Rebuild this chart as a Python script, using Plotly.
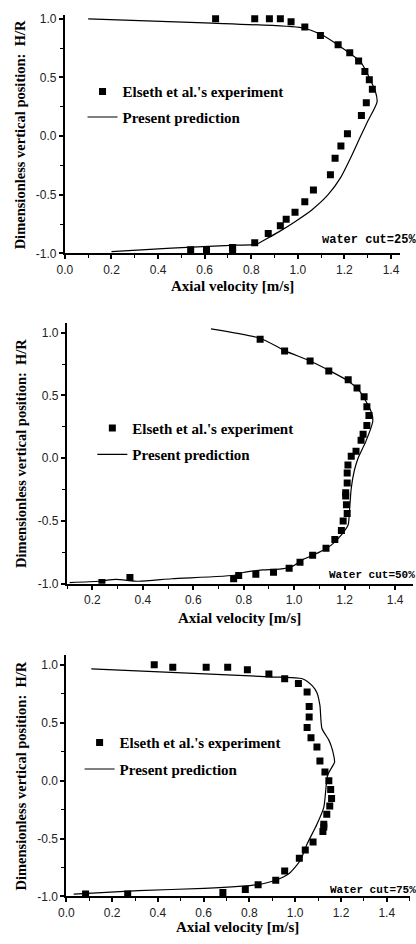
import plotly.graph_objects as go

# ---------------- data ----------------
# water cut = 25 %
exp25_v = [0.647, 0.815, 0.878, 0.925, 0.971, 1.03, 1.097, 1.173, 1.223, 1.261, 1.288, 1.307, 1.32,
           1.294, 1.273, 1.213, 1.185, 1.16, 1.14, 1.067, 1.03, 0.988, 0.95, 0.925, 0.873, 0.815,
           0.72, 0.72, 0.608, 0.54]
exp25_h = [1.0, 1.0, 1.0, 1.0, 0.975, 0.93, 0.857, 0.78, 0.71, 0.64, 0.55, 0.48, 0.40,
           0.285, 0.175, 0.02, -0.085, -0.19, -0.33, -0.46, -0.56, -0.65, -0.71, -0.765, -0.83, -0.91,
           -0.95, -0.97, -0.97, -0.97]
pred25_v = [0.1, 0.6, 1.017, 1.1, 1.17, 1.27, 1.333, 1.34, 1.30, 1.27, 1.227, 1.185, 1.13, 1.06,
            0.988, 0.92, 0.862, 0.82, 0.736, 0.457, 0.2]
pred25_h = [1.0, 0.966, 0.924, 0.866, 0.78, 0.63, 0.38, 0.29, 0.126, 0.0, -0.185, -0.35, -0.5, -0.63,
            -0.73, -0.815, -0.88, -0.924, -0.93, -0.955, -0.985]

# water cut = 50 %
exp50_v = [0.865, 0.962, 1.063, 1.137, 1.214, 1.249, 1.277, 1.288, 1.296, 1.288, 1.273, 1.265, 1.245,
           1.226, 1.213, 1.21, 1.21, 1.204, 1.204, 1.207, 1.21, 1.194, 1.187, 1.161, 1.126, 1.073,
           1.023, 0.98, 0.918, 0.848, 0.78, 0.76, 0.349, 0.238]
exp50_h = [0.947, 0.853, 0.774, 0.695, 0.624, 0.56, 0.49, 0.41, 0.34, 0.26, 0.19, 0.142, 0.055,
           0.016, -0.055, -0.118, -0.197, -0.276, -0.3, -0.37, -0.44, -0.5, -0.576, -0.647, -0.718, -0.773,
           -0.829, -0.876, -0.908, -0.924, -0.935, -0.96, -0.95, -0.99]
pred50_v = [0.67, 0.865, 0.966, 1.063, 1.137, 1.214, 1.257, 1.288, 1.308, 1.311, 1.284, 1.253, 1.238,
            1.226, 1.218, 1.214, 1.187, 1.148, 1.098, 1.032, 0.993, 0.942, 0.876, 0.798, 0.771, 0.515,
            0.383, 0.293, 0.227, 0.11]
pred50_h = [1.03, 0.955, 0.853, 0.774, 0.70, 0.615, 0.54, 0.44, 0.355, 0.29, 0.134, 0.0, -0.1,
            -0.24, -0.45, -0.53, -0.61, -0.69, -0.75, -0.81, -0.86, -0.884, -0.89, -0.91, -0.93, -0.96,
            -0.98, -0.965, -0.98, -0.99]

# water cut = 75 %
exp75_v = [0.384, 0.465, 0.611, 0.705, 0.791, 0.885, 0.954, 1.014, 1.052, 1.061, 1.061, 1.052, 1.069,
           1.095, 1.108, 1.13, 1.147, 1.155, 1.159, 1.151, 1.138, 1.125, 1.125, 1.121, 1.078, 1.044,
           1.018, 0.954, 0.915, 0.838, 0.782, 0.684, 0.268, 0.084]
exp75_h = [1.0, 0.98, 0.98, 0.98, 0.957, 0.92, 0.88, 0.84, 0.765, 0.64, 0.55, 0.46, 0.37,
           0.29, 0.17, 0.075, 0.0, -0.077, -0.154, -0.22, -0.29, -0.376, -0.4, -0.44, -0.53, -0.6,
           -0.67, -0.78, -0.86, -0.9, -0.94, -0.965, -0.98, -0.98]
pred75_v = [0.109, 0.889, 1.031, 1.074, 1.095, 1.108, 1.117, 1.147, 1.159, 1.168, 1.172, 1.142, 1.125,
            1.095, 1.052, 1.022, 0.975, 0.915, 0.829, 0.602, 0.315, 0.032]
pred75_h = [0.966, 0.897, 0.88, 0.82, 0.76, 0.65, 0.45, 0.35, 0.29, 0.22, 0.16, 0.05, -0.23,
            -0.376, -0.547, -0.69, -0.80, -0.86, -0.90, -0.93, -0.95, -0.98]

y_ticks = [-1.0, -0.5, 0.0, 0.5, 1.0]
cut_labels = ["water cut=25%", "Water cut=50%", "Water cut=75%"]
exp_name = "Elseth et al.'s experiment"
pred_name = "Present prediction"

# ---------------- layout geometry (pixels) ----------------
W, H = 416, 944
panels = [
    dict(x0=58, x1=400, y0=12, y1=253, xr=[0.0, 1.44], yr=[-1.0, 1.034], xt=[0.0, 0.2, 0.4, 0.6, 0.8, 1.0, 1.2, 1.4],
         leg=(76, 73), cut=(318, 240, 12), xtitle=286, ytitle=(12, 133)),
    dict(x0=60, x1=413, y0=323, y1=587, xr=[0.099, 1.471], yr=[-1.0, 1.08], xt=[0.2, 0.4, 0.6, 0.8, 1.0, 1.2, 1.4],
         leg=(86, 413), cut=(325, 578, 11), xtitle=622, ytitle=(13, 455)),
    dict(x0=59.5, x1=409.5, y0=659, y1=903, xr=[0.0, 1.5], yr=[-1.0, 1.085], xt=[0.0, 0.2, 0.4, 0.6, 0.8, 1.0, 1.2, 1.4],
         leg=(73, 731), cut=(326, 896, 11), xtitle=934, ytitle=(13, 781)),
]
series = [(exp25_v, exp25_h, pred25_v, pred25_h),
          (exp50_v, exp50_h, pred50_v, pred50_h),
          (exp75_v, exp75_h, pred75_v, pred75_h)]

serif = "Liberation Serif"
sans = "Liberation Sans"
mono = "Liberation Mono"

fig = go.Figure()
layout = dict(width=W, height=H, margin=dict(l=0, r=0, t=0, b=0),
              paper_bgcolor="white", plot_bgcolor="white", annotations=[])

for i, (p, (ev, eh, pv, ph)) in enumerate(zip(panels, series)):
    n = "" if i == 0 else str(i + 1)
    legname = "legend" + n
    fig.add_trace(go.Scatter(x=ev, y=eh, mode="markers", name=exp_name,
                             marker=dict(symbol="square", size=7, color="black"),
                             xaxis="x" + n, yaxis="y" + n, legend=legname, legendgroup="e" + n))
    fig.add_trace(go.Scatter(x=pv, y=ph, mode="lines", name=pred_name,
                             line=dict(color="black", width=1.2, shape="spline", smoothing=0.6),
                             xaxis="x" + n, yaxis="y" + n, legend=legname, legendgroup="p" + n))
    axfont = dict(family=sans, size=12, color="#222")
    layout["xaxis" + n] = dict(domain=[p["x0"] / W, p["x1"] / W], range=p["xr"], anchor="y" + n,
                               showline=True, linewidth=2, linecolor="black", showgrid=False, zeroline=False,
                               ticks="outside", ticklen=4, tickwidth=1.5, tickcolor="black",
                               tickvals=p["xt"], ticktext=["%.1f" % t for t in p["xt"]], tickfont=axfont,
                               minor=dict(ticks="outside", ticklen=3, tickwidth=1.2, tickcolor="black",
                                          tickvals=[t + 0.1 for t in p["xt"]] + [p["xt"][0] - 0.1]))
    layout["yaxis" + n] = dict(domain=[1 - p["y1"] / H, 1 - p["y0"] / H], range=p["yr"], anchor="x" + n,
                               showline=True, linewidth=2, linecolor="black", showgrid=False, zeroline=False,
                               ticks="outside", ticklen=4, tickwidth=1.5, tickcolor="black",
                               tickvals=y_ticks, ticktext=["%.1f" % t for t in y_ticks], tickfont=axfont,
                               minor=dict(ticks="outside", ticklen=3, tickwidth=1.2, tickcolor="black",
                                          tickvals=[-0.75, -0.25, 0.25, 0.75]))
    layout[legname] = dict(x=p["leg"][0] / W, y=1 - p["leg"][1] / H, xanchor="left", yanchor="top",
                           bgcolor="rgba(0,0,0,0)", borderwidth=0, traceorder="grouped",
                           tracegroupgap=3 if i == 0 else 4,
                           font=dict(family=serif, size=15, color="black", weight="bold"))
    layout["annotations"] += [
        dict(text=cut_labels[i], x=p["cut"][0] / W, y=1 - p["cut"][1] / H, xref="paper", yref="paper",
             xanchor="left", yanchor="middle", showarrow=False,
             font=dict(family=mono, size=p["cut"][2], color="black", weight="bold")),
        dict(text="Axial velocity [m/s]", x=(p["x0"] + p["x1"]) / 2 / W, y=1 - p["xtitle"] / H,
             xref="paper", yref="paper", xanchor="center", yanchor="middle", showarrow=False,
             font=dict(family=serif, size=15, color="black", weight="bold")),
        dict(text="Dimensionless vertical position:  H/R", x=p["ytitle"][0] / W, y=1 - p["ytitle"][1] / H,
             xref="paper", yref="paper", xanchor="center", yanchor="middle", showarrow=False, textangle=-90,
             font=dict(family=serif, size=14.5, color="black", weight="bold")),
    ]

layout["showlegend"] = True
fig.update_layout(**layout)
fig.write_html("out.html")
